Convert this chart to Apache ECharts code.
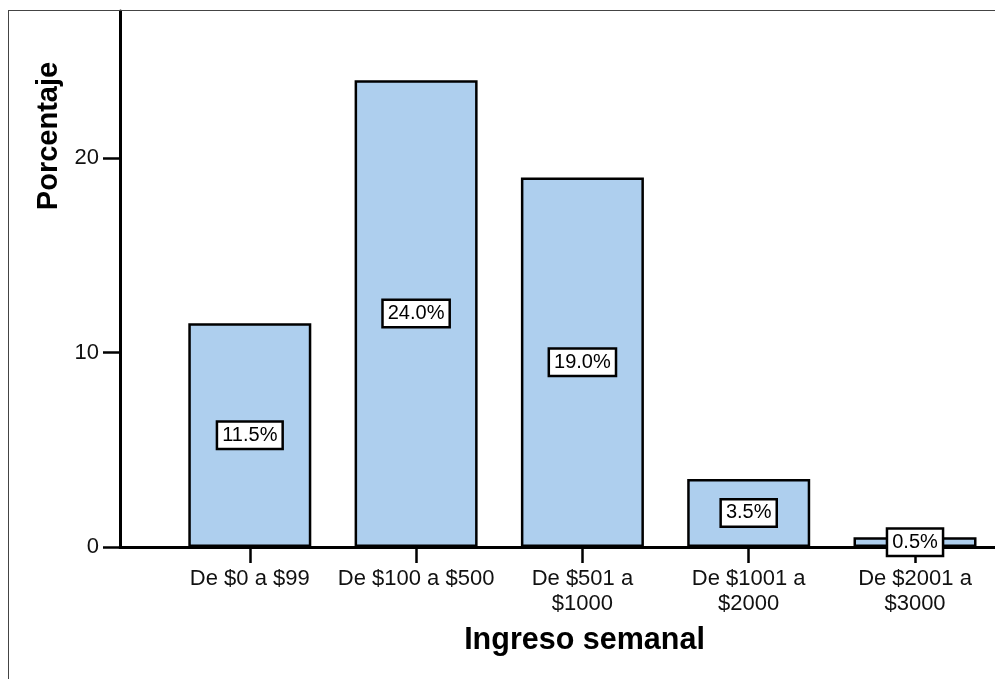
<!DOCTYPE html>
<html>
<head>
<meta charset="utf-8">
<script src="https://cdn.jsdelivr.net/npm/echarts@6/dist/echarts.min.js"></script>
<style>
  html, body { margin: 0; padding: 0; background: #fff; }
  #chart { position: absolute; left: 0; top: 0; width: 995px; height: 679px; }
  #frame { position: absolute; left: 8px; top: 10px; width: 1100px; height: 800px;
           border: 1px solid #444; pointer-events: none; }
</style>
</head>
<body>
<div id="chart"></div>
<div id="frame"></div>
<script>
// Weekly income brackets and their share of respondents (%)
const categories = [
  'De $0 a $99',
  'De $100 a $500',
  'De $501 a\n$1000',
  'De $1001 a\n$2000',
  'De $2001 a\n$3000'
];
const percentages = [11.5, 24.0, 19.0, 3.5, 0.5];
const yTicks = [0, 10, 20];

const FONT = '"Liberation Sans", Arial, Helvetica, sans-serif';
const positions = categories.map((_, i) => i);

const chart = echarts.init(document.getElementById('chart'));
chart.setOption({
  animation: false,
  backgroundColor: '#fff',
  grid: { left: 120, right: 0, top: 11, bottom: 132 },
  xAxis: {
    type: 'value',
    min: -0.7805,
    max: 4.481,
    splitLine: { show: false },
    axisLine: { show: true, onZero: false, lineStyle: { color: '#000', width: 3 } },
    axisTick: {
      show: true, customValues: positions, length: 16, inside: false,
      lineStyle: { color: '#000', width: 2.5 }
    },
    axisLabel: {
      customValues: positions,
      formatter: v => categories[Math.round(v)],
      color: '#111', fontFamily: FONT, fontSize: 22, lineHeight: 25,
      margin: 19, align: 'center'
    },
    name: 'Ingreso semanal',
    nameLocation: 'middle',
    nameGap: 78,
    nameTextStyle: {
      color: '#000', fontFamily: FONT, fontSize: 30.5, fontWeight: 'bold',
      padding: [0, 0, 0, 54]
    }
  },
  yAxis: {
    type: 'value',
    min: 0,
    max: 27.56,
    splitLine: { show: false },
    axisLine: { show: true, onZero: false, lineStyle: { color: '#000', width: 3 } },
    axisTick: {
      show: true, customValues: yTicks, length: 17,
      lineStyle: { color: '#000', width: 2.5 }
    },
    axisLabel: {
      customValues: yTicks,
      color: '#111', fontFamily: FONT, fontSize: 22, margin: 21
    },
    name: 'Porcentaje',
    nameLocation: 'middle',
    nameGap: 55,
    nameTextStyle: {
      color: '#000', fontFamily: FONT, fontSize: 29, fontWeight: 'bold',
      padding: [0, 0, 0, 286]
    }
  },
  series: [{
    type: 'bar',
    barWidth: 123,
    data: positions.map((p, i) => [p, percentages[i]]),
    itemStyle: { color: '#aecfee', borderColor: '#000', borderWidth: 2.5 },
    label: {
      show: true,
      position: 'inside',
      formatter: p => p.value[1].toFixed(1) + '%',
      color: '#000', fontFamily: FONT, fontSize: 20, lineHeight: 22,
      backgroundColor: '#fff', borderColor: '#000', borderWidth: 2.5,
      padding: [2, 4, 1, 4]
    },
    z: 3
  }]
});
</script>
</body>
</html>
